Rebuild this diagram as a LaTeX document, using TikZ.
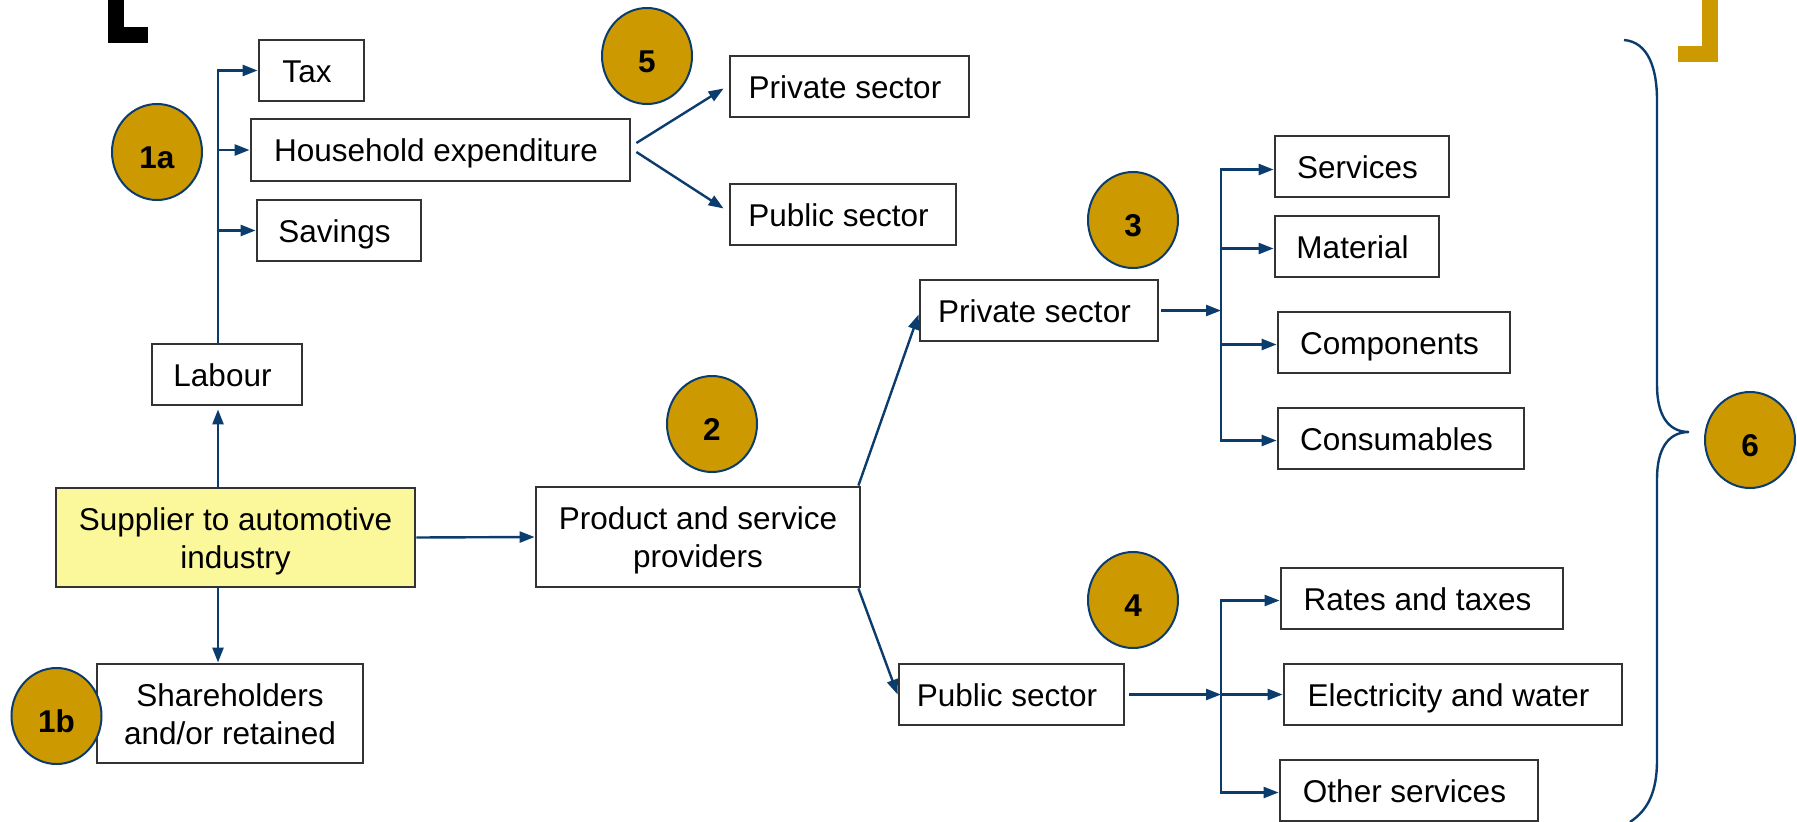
\documentclass[tikz,border=0pt]{standalone}
\usepackage{fontspec}
\setmainfont{Liberation Sans}
\usetikzlibrary{arrows.meta,shapes.geometric,calc}
\definecolor{navy}{HTML}{0B3C6E}
\definecolor{gold}{HTML}{CC9900}
\definecolor{boxline}{HTML}{333333}
\definecolor{supfill}{HTML}{FBF79B}
\newcommand{\topstrut}{\rule{0pt}{30.7pt}}
\newcommand{\botstrut}{\rule[-7pt]{0pt}{7pt}}
\begin{document}
\begin{tikzpicture}[x=1pt,y=-1pt,
  every node/.style={font=\fontsize{31.5}{38}\selectfont},
  box/.style={draw=boxline,line width=2.8pt,fill=white,inner sep=0pt,align=center},
  sbox/.style={draw=boxline,line width=2.8pt,fill=white,inner sep=0pt,text height=23.5pt,text depth=0pt,execute at end node={\kern9pt}},
  badge/.style={ellipse,draw=navy,line width=2pt,fill=gold,minimum width=90pt,minimum height=96pt,inner sep=0pt,text height=33pt,text depth=0pt,font=\fontsize{31.5}{38}\selectfont\bfseries},
  conn/.style={draw=navy,line width=2.4pt,-{Triangle[length=15pt,width=11pt]}},
  bracestyle/.style={draw=navy,line width=2.4pt}]
\useasboundingbox (0,0) rectangle (1797,822);

% corner marks
\fill[black] (108,0) rectangle (124,43);
\fill[black] (108,27) rectangle (148,43);
\fill[gold] (1702,0) rectangle (1718,62);
\fill[gold] (1678,46) rectangle (1718,62);

% boxes
\node[sbox,minimum width=105pt,minimum height=61pt] (tax) at (311.5,70.5) {Tax};
\node[sbox,minimum width=379pt,minimum height=62pt] (house) at (440.5,150) {Household expenditure};
\node[sbox,minimum width=164pt,minimum height=61pt] (savings) at (339,230.5) {Savings};
\node[sbox,minimum width=150pt,minimum height=61pt] (labour) at (227,374.5) {Labour};
\node[box,fill=supfill,minimum width=359pt,minimum height=99pt] (supplier) at (235.5,537.5) {\topstrut Supplier to automotive\\\botstrut industry};
\node[box,minimum width=266pt,minimum height=99pt] (share) at (230,713.5) {\topstrut Shareholders\\\botstrut and/or retained};
\node[box,minimum width=324pt,minimum height=100pt] (product) at (698,537) {\topstrut Product and service\\\botstrut providers};
\node[sbox,minimum width=239pt,minimum height=61pt] (priv5) at (849.5,86.5) {Private sector};
\node[sbox,minimum width=226pt,minimum height=61pt] (pub5) at (843,214.5) {Public sector};
\node[sbox,minimum width=238pt,minimum height=61pt] (priv3) at (1039,310.5) {Private sector};
\node[sbox,minimum width=225pt,minimum height=61pt] (pub4) at (1011.5,694.5) {Public sector};
\node[sbox,minimum width=174pt,minimum height=61pt] (services) at (1362,166.5) {Services};
\node[sbox,minimum width=164pt,minimum height=61pt] (material) at (1357,246.5) {Material};
\node[sbox,minimum width=232pt,minimum height=61pt] (components) at (1394,342.5) {Components};
\node[sbox,minimum width=246pt,minimum height=61pt] (consumables) at (1401,438.5) {Consumables};
\node[sbox,minimum width=282pt,minimum height=61pt] (rates) at (1422,598.5) {Rates and taxes};
\node[sbox,minimum width=338pt,minimum height=61pt] (elec) at (1453,694.5) {Electricity and water};
\node[sbox,minimum width=258pt,minimum height=61pt] (other) at (1409,790.5) {Other services};

% badges
\node[badge] (c1a) at (157,152) {1a};
\node[badge] (c1b) at (56.5,716) {1b};
\node[badge] (c2) at (712,424) {2};
\node[badge] (c3) at (1133,220) {3};
\node[badge] (c4) at (1133,600) {4};
\node[badge] (c5) at (647,56) {5};
\node[badge] (c6) at (1750,440) {6};

% trunk coordinates
\coordinate (trunk) at (218,0);
\coordinate (b3) at (1221,0);

% labour distribution
\draw[conn] (labour.north -| trunk) |- (tax.west);
\draw[conn] (labour.north -| trunk) |- (house.west);
\draw[conn] (labour.north -| trunk) |- (savings.west);

% supplier links
\draw[conn] (supplier.north -| trunk) -- ([yshift=-3pt]labour.south -| trunk);
\draw[conn] (supplier.south -| trunk) -- (share.north -| trunk);
\draw[conn] (supplier.east) -- (product.west);

% household expenditure split
\draw[conn] ([xshift=5pt,yshift=7pt]house.east) -- ([xshift=-5pt,yshift=-2pt]priv5.west);
\draw[conn] ([xshift=5pt,yshift=-2pt]house.east) -- ([xshift=-5pt,yshift=6pt]pub5.west);

% product split
\draw[conn] ([xshift=-3pt]product.north east) -- ([yshift=-4pt]priv3.west);
\draw[conn] ([xshift=-3pt]product.south east) -- (pub4.west);

% private sector branch
\draw[conn] ([xshift=2pt]priv3.east) -- (priv3.east -| b3);
\draw[conn] (priv3.east -| b3) |- ([yshift=-3pt]services.west);
\draw[conn] (priv3.east -| b3) |- ([yshift=-2pt]material.west);
\draw[conn] (priv3.east -| b3) |- ([yshift=-2pt]components.west);
\draw[conn] (priv3.east -| b3) |- ([yshift=-2pt]consumables.west);

% public sector branch
\draw[conn] ([xshift=4pt]pub4.east) -- (pub4.east -| b3);
\draw[conn] (pub4.east -| b3) |- ([yshift=-2pt]rates.west);
\draw[conn] (pub4.east -| b3) |- (elec.west);
\draw[conn] (pub4.east -| b3) |- ([yshift=-2pt]other.west);

% brace
\draw[bracestyle] (1624,40) .. controls (1648,42) and (1657,68) .. (1657,100)
  -- (1657,385) .. controls (1657,415) and (1668,432) .. (1689,432)
  .. controls (1668,432) and (1657,449) .. (1657,479)
  -- (1657,760) .. controls (1657,792) and (1648,810) .. (1630,822);
\end{tikzpicture}
\end{document}
